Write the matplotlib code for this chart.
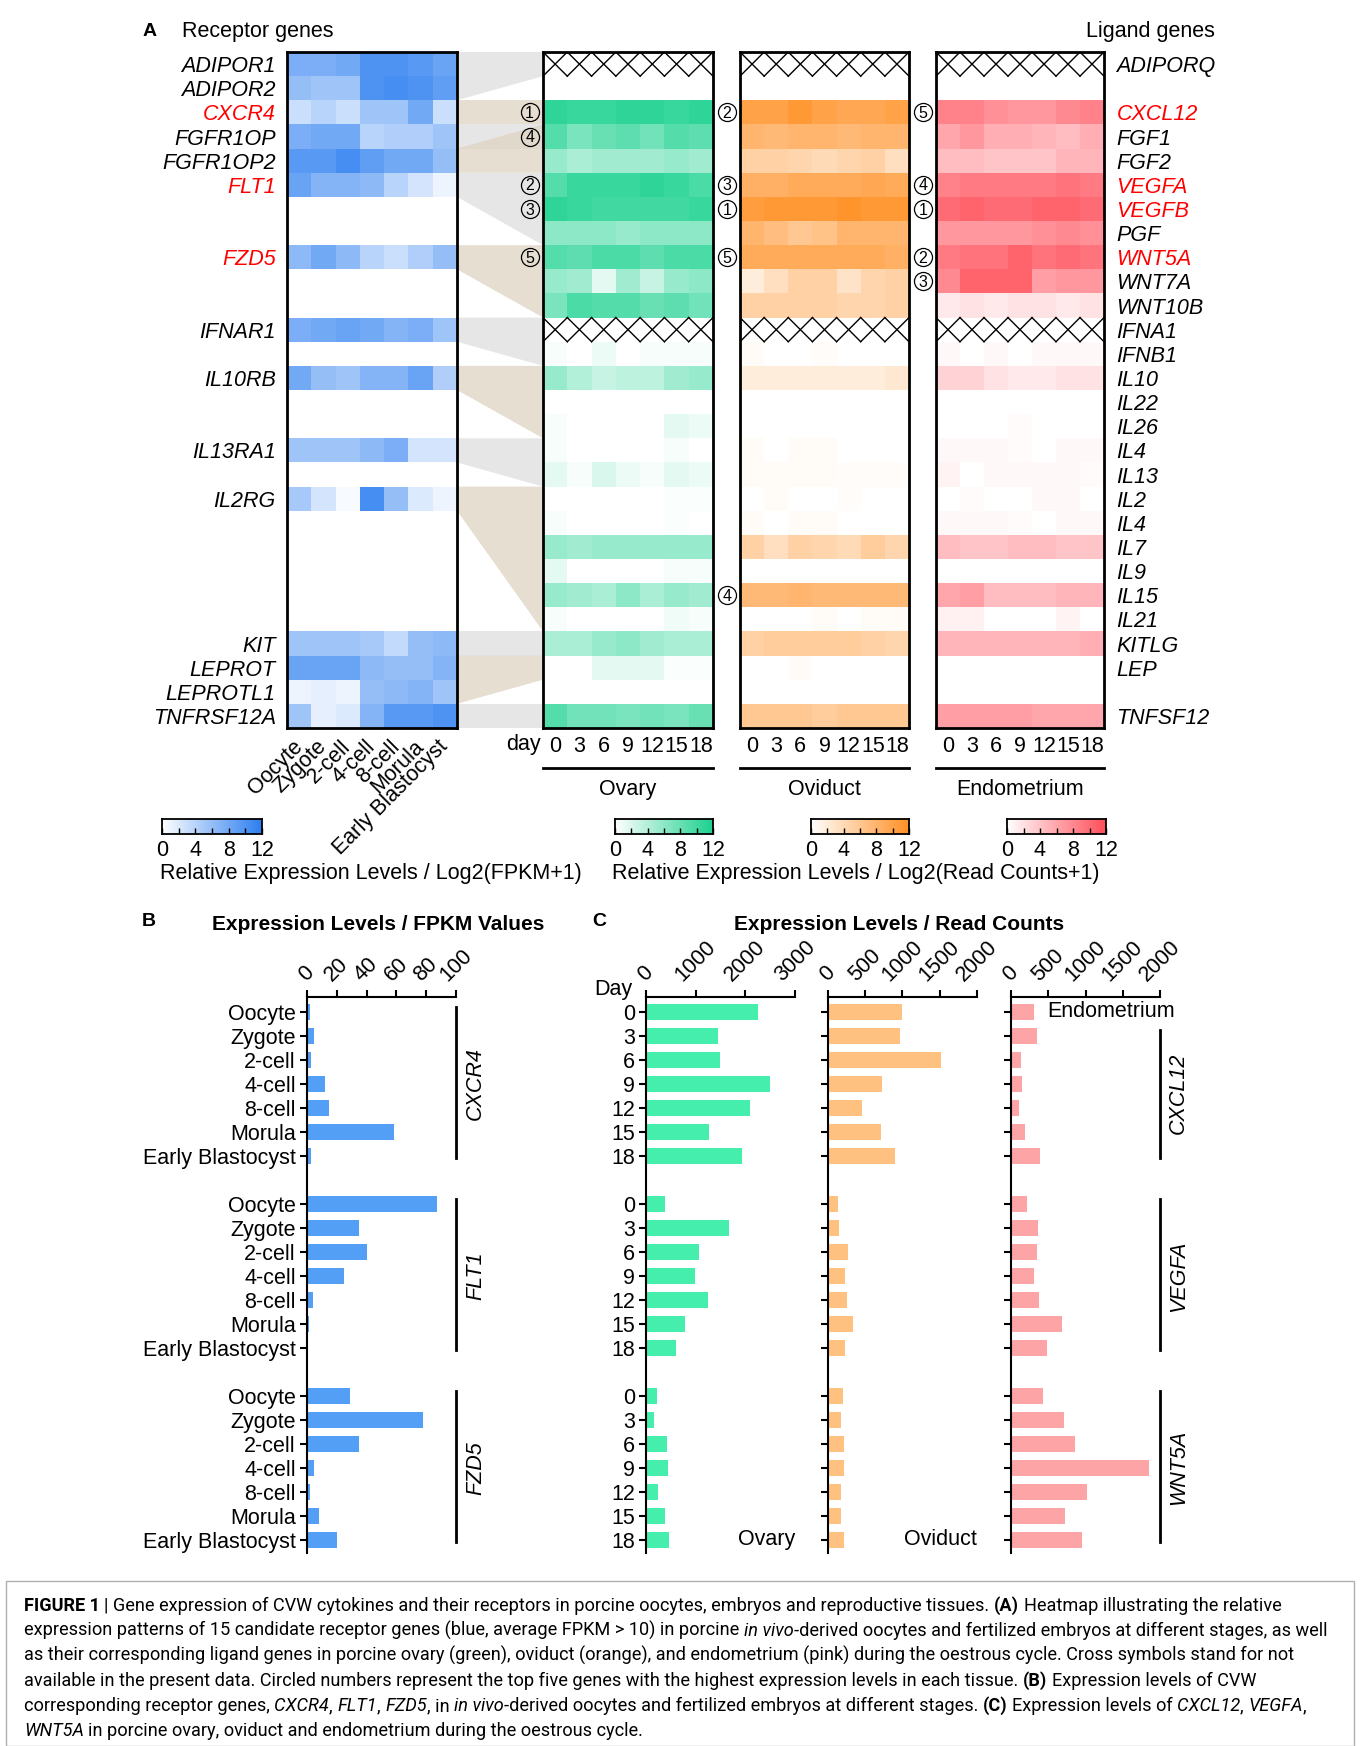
import numpy as np
import matplotlib
matplotlib.use('Agg')
import matplotlib.pyplot as plt
from matplotlib.colors import LinearSegmentedColormap
from matplotlib.patches import Polygon, Rectangle
from matplotlib.lines import Line2D

plt.rcParams['font.family'] = ['Liberation Sans', 'DejaVu Sans']

W, H = 1360, 1746

# ---------------- data ----------------
stages = ['Oocyte', 'Zygote', '2-cell', '4-cell', '8-cell', 'Morula', 'Early Blastocyst']
days = [0, 3, 6, 9, 12, 15, 18]

receptor_genes = ['ADIPOR1', 'ADIPOR2', 'CXCR4', 'FGFR1OP', 'FGFR1OP2', 'FLT1', '', '',
                  'FZD5', '', '', 'IFNAR1', '', 'IL10RB', '', '', 'IL13RA1', '', 'IL2RG',
                  '', '', '', '', '', 'KIT', 'LEPROT', 'LEPROTL1', 'TNFRSF12A']
ligand_genes = ['ADIPORQ', '', 'CXCL12', 'FGF1', 'FGF2', 'VEGFA', 'VEGFB', 'PGF', 'WNT5A',
                'WNT7A', 'WNT10B', 'IFNA1', 'IFNB1', 'IL10', 'IL22', 'IL26', 'IL4', 'IL13',
                'IL2', 'IL4', 'IL7', 'IL9', 'IL15', 'IL21', 'KITLG', 'LEP', '', 'TNFSF12']
highlight = ['CXCR4', 'FLT1', 'FZD5', 'CXCL12', 'VEGFA', 'VEGFB', 'WNT5A']
na_rows = [0, 11]   # ADIPORQ, IFNA1 not available

# log2(FPKM+1), receptor genes in embryos (None = no gene in this row)
blue = [
    [7.5, 7.5, 8, 10, 10, 9.5, 8.5],      # ADIPOR1
    [6, 5.5, 5.5, 10, 10.5, 10, 9],       # ADIPOR2
    [3, 4, 3, 5.5, 5.5, 8, 3],            # CXCR4
    [7.5, 8, 8, 4, 4.5, 4.5, 5.5],        # FGFR1OP
    [9.5, 9.5, 10.5, 9, 8, 8, 6],         # FGFR1OP2
    [8.5, 7, 7, 6.5, 4, 2.5, 1],          # FLT1
    None, None,
    [6.5, 8, 6.5, 4, 3, 4.5, 6],          # FZD5
    None, None,
    [7.5, 8, 8.5, 8, 7, 7.5, 5.5],        # IFNAR1
    None,
    [8, 6, 5.5, 7, 7, 8.5, 4.5],          # IL10RB
    None, None,
    [5.5, 5.5, 5.5, 6.5, 7.5, 2.5, 2.5],  # IL13RA1
    None,
    [5, 2.5, 0.5, 10.5, 6, 2, 1],         # IL2RG
    None, None, None, None, None,
    [5.5, 5.5, 5.5, 5, 3.5, 6, 6.5],      # KIT
    [8.5, 8.5, 8.5, 6.5, 6, 6, 7],        # LEPROT
    [1, 1.5, 1, 6, 6.5, 7, 5.5],          # LEPROTL1
    [5.5, 1.5, 2, 7, 9.5, 9.5, 10],       # TNFRSF12A
]

# log2(read counts+1), ligand genes, days 0-18
ovary = [
    None, None,
    [11, 10.5, 10.5, 11, 11, 10.5, 11], [9, 7, 8, 8.5, 7.5, 9, 8.5],
    [5.5, 4.5, 5, 5, 5, 5.5, 5], [9, 10.5, 10.5, 10.5, 11, 10.5, 9.5],
    [11, 10.5, 10, 10, 10, 10, 10.5], [6, 6, 6, 5.5, 6, 6, 6],
    [9, 8.5, 9.5, 9.5, 8.5, 9.5, 9.5], [5.5, 5, 1.5, 5, 3, 5.5, 6],
    [7, 9.5, 9, 9, 8, 8.5, 7.5], None,
    [0.5, 0, 1, 0, 0.5, 0.5, 0.5], [5.5, 4, 3, 3.5, 3.5, 5, 5.5],
    [0, 0, 0, 0, 0, 0, 0], [0.5, 0, 0, 0, 0, 1.5, 1],
    [0.5, 0, 0, 0, 0, 0.5, 0], [1.5, 0.5, 2, 1, 0.5, 1.5, 1],
    [0, 0, 0, 0, 0, 0.3, 0.3], [0.5, 0, 0, 0, 0, 0.3, 0],
    [5.5, 5, 5.5, 5.5, 5.5, 5.5, 5.5], [1.5, 0, 0, 0, 0, 0.5, 0.5],
    [5.5, 5, 4.5, 6, 4.5, 5.5, 5], [0.5, 0, 0, 0, 0, 0.8, 0.5],
    [4.5, 4.5, 5.5, 6, 5, 4.5, 4.5], [0, 0, 1.5, 1.5, 1.5, 0.3, 0.3],
    None, [9, 7.5, 7.5, 7, 7.5, 7, 8],
]
oviduct = [
    None, None,
    [10, 10, 11, 10, 9.5, 9.5, 10], [8, 7.5, 8, 8, 7.5, 8, 8],
    [5, 5, 4.5, 4, 4.5, 5, 3.5], [8.5, 8.5, 9, 9, 9, 9.5, 9],
    [10.5, 11, 11, 11, 11.5, 11, 11], [8, 7, 6, 6.5, 8, 8, 8],
    [9, 9, 9, 9, 9, 9, 8.5], [2, 3.5, 5, 5, 3, 4.5, 5],
    [5, 5, 5, 5, 4.5, 4.5, 5], None,
    [0.5, 0, 0, 0.3, 0, 0, 0], [2, 2, 2, 2, 2, 2, 2.5],
    [0, 0, 0, 0, 0, 0, 0], [0, 0, 0, 0, 0, 0, 0],
    [0.5, 0, 0.5, 0.5, 0, 0, 0], [0.5, 0.5, 0.5, 0.5, 0.3, 0.3, 0.3],
    [0, 0.5, 0, 0, 0.3, 0, 0], [0.5, 0, 0.5, 0.5, 0, 0, 0],
    [5, 3.5, 5, 4.5, 4, 5.5, 4.5], [0, 0, 0, 0, 0, 0, 0],
    [7.5, 7.5, 8, 7.5, 7.5, 7.5, 7.5], [0, 0, 0, 0.5, 0, 0.5, 0.5],
    [5, 5.5, 5.5, 5.5, 5.5, 5, 4.5], [0, 0, 0.5, 0, 0, 0, 0],
    None, [6, 6, 6, 5.5, 6, 6, 6],
]
endometrium = [
    None, None,
    [8.5, 8.5, 7.5, 7, 7, 8, 8.5], [6, 7, 5.5, 5.5, 5, 4.5, 5.5],
    [4.5, 4.5, 4, 4, 4, 5, 5], [8.5, 9, 9, 9, 9, 9.5, 9],
    [10, 10.5, 10, 10, 10.5, 10.5, 10], [7, 7, 7, 7, 7.5, 8, 7.5],
    [9, 9.5, 9.5, 10.5, 9.5, 10, 9.5], [8, 10.5, 10.5, 10.5, 6.5, 7, 7],
    [1.5, 2, 1.5, 2, 2, 1.5, 2], None,
    [0.5, 0, 0.5, 0, 0.5, 0.5, 0.5], [3, 3, 2, 1.5, 1.5, 2, 2],
    [0, 0, 0, 0, 0, 0, 0], [0, 0, 0, 0.3, 0, 0, 0],
    [0.5, 0.5, 0.5, 0.3, 0, 0.5, 0.5], [0.8, 0, 0.5, 0.5, 0.5, 0.5, 0.3],
    [0, 0.3, 0, 0, 0.5, 0.5, 0], [0.5, 0.5, 0.5, 0.3, 0, 0.5, 0.5],
    [4.5, 4, 4, 4.5, 4.5, 4, 4], [0, 0, 0, 0, 0, 0, 0],
    [6, 6.5, 4.5, 4.5, 4.5, 5, 5], [1, 1, 0, 0, 0, 0.8, 0],
    [5, 5, 5, 5, 5, 5, 5.5], [0, 0, 0, 0, 0, 0, 0],
    None, [6.5, 6.5, 6.5, 6.5, 6, 6, 6],
]

# top-5 ranks per tissue: row -> rank
ovary_rank = {2: 1, 3: 4, 5: 2, 6: 3, 8: 5}
oviduct_rank = {2: 2, 5: 3, 6: 1, 8: 5, 22: 4}
endometrium_rank = {2: 5, 5: 4, 6: 1, 8: 2, 9: 3}

# receptor rows -> ligand rows (start, end), shade
links = [
    (0, 2, 0, 1, 'gray'), (2, 3, 2, 3, 'tan'), (3, 4, 3, 4, 'gray'),
    (4, 5, 3, 5, 'tan'), (5, 6, 5, 8, 'gray'), (8, 9, 8, 11, 'tan'),
    (11, 12, 11, 13, 'gray'), (13, 14, 13, 16, 'tan'), (16, 17, 16, 18, 'gray'),
    (18, 19, 18, 24, 'tan'), (24, 25, 24, 25, 'gray'), (25, 27, 25, 26, 'tan'),
    (27, 28, 27, 28, 'gray'),
]

# panel B: FPKM
fpkm_genes = ['CXCR4', 'FLT1', 'FZD5']
fpkm_cxcr4 = [2.2, 4.5, 2.7, 12.3, 15, 58.6, 2.7]
fpkm_flt1 = [87, 35, 40, 24.6, 3.7, 1.5, 0.3]
fpkm_fzd5 = [29, 78, 35, 4.5, 2.2, 8, 20]

# panel C: read counts
count_genes = ['CXCL12', 'VEGFA', 'WNT5A']
ovary_cxcl12 = [2260, 1450, 1490, 2490, 2090, 1270, 1940]
ovary_vegfa = [380, 1680, 1075, 985, 1255, 785, 605]
ovary_wnt5a = [225, 160, 425, 450, 245, 380, 470]
oviduct_cxcl12 = [1000, 965, 1515, 720, 455, 715, 900]
oviduct_vegfa = [135, 150, 270, 225, 255, 330, 225]
oviduct_wnt5a = [195, 180, 210, 210, 180, 180, 210]
endo_cxcl12 = [310, 345, 130, 150, 105, 185, 395]
endo_vegfa = [210, 360, 345, 315, 375, 690, 480]
endo_wnt5a = [435, 715, 865, 1850, 1015, 730, 955]

# ---------------- helpers ----------------
fig = plt.figure(figsize=(W / 100, H / 100), dpi=100)


def px_axes(x0, y0, x1, y1):
    return fig.add_axes([x0 / W, 1 - y1 / H, (x1 - x0) / W, (y1 - y0) / H])


def ftext(x, y, s, **kw):
    return fig.text(x / W, 1 - y / H, s, **kw)


def fline(x0, x1, y0, y1, **kw):
    fig.add_artist(Line2D([x0 / W, x1 / W], [1 - y0 / H, 1 - y1 / H],
                          transform=fig.transFigure, **kw))


cm_blue = LinearSegmentedColormap.from_list('blue', ['#ffffff', '#2c7ef0'])
cm_green = LinearSegmentedColormap.from_list('green', ['#ffffff', '#1cd18f'])
cm_orange = LinearSegmentedColormap.from_list('orange', ['#ffffff', '#ff9024'])
cm_red = LinearSegmentedColormap.from_list('red', ['#ffffff', '#ff4e59'])

FS = 15.5
HM_TOP, HM_BOT = 52, 728


def draw_heatmap(ax, rows, cmap, crosses=()):
    data = np.full((len(rows), 7), np.nan)
    for i, r in enumerate(rows):
        if r is not None:
            data[i] = r
    ax.pcolormesh(np.arange(8), np.arange(len(rows) + 1), np.ma.masked_invalid(data),
                  cmap=cmap, vmin=0, vmax=12, linewidth=0)
    for r in crosses:
        for c in range(7):
            ax.plot([c, c + 1], [r, r + 1], color='k', lw=1)
            ax.plot([c, c + 1], [r + 1, r], color='k', lw=1)
    ax.set_xlim(0, 7)
    ax.set_ylim(len(rows), 0)
    for sp in ax.spines.values():
        sp.set_linewidth(2)
    ax.tick_params(length=0)


# ---------------- panel A ----------------
ax_link = px_axes(457, HM_TOP, 543, HM_BOT)
ax_link.set_xlim(0, 1)
ax_link.set_ylim(28, 0)
ax_link.axis('off')
for r0, r1, l0, l1, kind in links:
    if kind == 'gray':
        ax_link.add_patch(Polygon([(0, r0), (1, l0), (1, l1), (0, r1)],
                                  closed=True, fc='#e6e6e6', ec='none'))
for r0, r1, l0, l1, kind in links:
    if kind == 'tan':
        ax_link.add_patch(Polygon([(0, r0), (1, l0), (1, l1), (0, r1)],
                                  closed=True, fc='#e0d4c4', ec='none', alpha=0.75))

ax_blue = px_axes(287, HM_TOP, 457, HM_BOT)
draw_heatmap(ax_blue, blue, cm_blue)
rec_rows = [i for i, g in enumerate(receptor_genes) if g]
ax_blue.set_yticks([i + 0.5 for i in rec_rows])
ax_blue.set_yticklabels([receptor_genes[i] for i in rec_rows], fontsize=FS, style='italic')
ax_blue.tick_params(axis='y', pad=8)
for lab in ax_blue.get_yticklabels():
    if lab.get_text() in highlight:
        lab.set_color('red')
ax_blue.set_xticks(np.arange(7) + 0.5)
ax_blue.set_xticklabels(stages, fontsize=FS, rotation=45, ha='right', va='center',
                        rotation_mode='anchor')
ax_blue.tick_params(axis='x', pad=11)

tissues = [
    ('Ovary', ovary, cm_green, 543, 713, ovary_rank),
    ('Oviduct', oviduct, cm_orange, 740, 909, oviduct_rank),
    ('Endometrium', endometrium, cm_red, 936, 1104, endometrium_rank),
]
for k, (name, rows, cmap, x0, x1, ranks) in enumerate(tissues):
    ax = px_axes(x0, HM_TOP, x1, HM_BOT)
    draw_heatmap(ax, rows, cmap, crosses=na_rows)
    ax.set_xticks(np.arange(7) + 0.5)
    ax.set_xticklabels([str(d) for d in days], fontsize=FS)
    ax.tick_params(axis='x', pad=6)
    if k < 2:
        ax.set_yticks([])
    else:
        lig_rows = [i for i, g in enumerate(ligand_genes) if g]
        ax.yaxis.tick_right()
        ax.set_yticks([i + 0.5 for i in lig_rows])
        ax.set_yticklabels([ligand_genes[i] for i in lig_rows], fontsize=FS, style='italic')
        ax.tick_params(axis='y', pad=9)
        for lab in ax.get_yticklabels():
            if lab.get_text() in highlight:
                lab.set_color('red')
    for row, rank in ranks.items():
        ax.plot(-0.55, row + 0.5, 'o', ms=13, mfc='none', mec='k', mew=0.9, clip_on=False)
        ax.text(-0.55, row + 0.55, str(rank), fontsize=11.5, ha='center', va='center',
                clip_on=False)
    fline(x0, x1, 768, 768, color='k', lw=2)
    ftext((x0 + x1) / 2, 790, name, fontsize=FS, ha='center', va='center')

ftext(541, 744, 'day', fontsize=FS, ha='right', va='center')
ftext(150, 32, 'A', fontsize=14, fontweight='bold', ha='center', va='center')
ftext(182, 32, 'Receptor genes', fontsize=FS, ha='left', va='center')
ftext(1215, 32, 'Ligand genes', fontsize=FS, ha='right', va='center')

# colour bars
for cmap, x0, x1 in [(cm_blue, 162, 262), (cm_green, 615, 713),
                     (cm_orange, 811, 909), (cm_red, 1007, 1106)]:
    cax = px_axes(x0, 819, x1, 834)
    cax.imshow(np.linspace(0, 12, 256)[None, :], cmap=cmap, vmin=0, vmax=12,
               aspect='auto', extent=[0, 12, 0, 1])
    cax.set_yticks([])
    cax.set_xticks(range(0, 13, 2))
    cax.set_xticklabels(['0', '', '4', '', '8', '', '12'], fontsize=FS)
    cax.tick_params(axis='x', direction='in', length=4, width=1, pad=4)
    for sp in cax.spines.values():
        sp.set_linewidth(1.3)

ftext(160, 873, 'Relative Expression Levels / Log2(FPKM+1)', fontsize=FS, ha='left', va='center')
ftext(612, 873, 'Relative Expression Levels / Log2(Read Counts+1)', fontsize=FS,
      ha='left', va='center')

# ---------------- panel B / C ----------------
BAR_TOP, BAR_BOT = 997, 1553
ypos = [g * 8 + i for g in range(3) for i in range(7)]


def bar_axes(x0, x1, xmax, ticks, values, color, ylabels=None):
    ax = px_axes(x0, BAR_TOP, x1, BAR_BOT)
    ax.barh(ypos, values, height=0.66, color=color)
    ax.set_xlim(0, xmax)
    ax.set_ylim(22.55, -0.625)
    ax.xaxis.tick_top()
    ax.set_xticks(ticks)
    ax.set_xticklabels([str(t) for t in ticks], rotation=45, ha='center', va='bottom',
                       fontsize=FS)
    ax.set_yticks(ypos)
    ax.set_yticklabels(ylabels if ylabels else [''] * len(ypos), fontsize=FS)
    ax.tick_params(length=5, width=1.5, pad=3)
    ax.spines['right'].set_visible(False)
    ax.spines['bottom'].set_visible(False)
    ax.spines['left'].set_linewidth(1.5)
    ax.spines['top'].set_linewidth(1.5)
    return ax


ax_b = bar_axes(307, 456, 100, [0, 20, 40, 60, 80, 100],
                fpkm_cxcr4 + fpkm_flt1 + fpkm_fzd5, '#529ff5', stages * 3)
for g, gene in enumerate(fpkm_genes):
    ax_b.plot([100, 100], [g * 8 - 0.2, g * 8 + 6.1], color='k', lw=2, clip_on=False)
    ax_b.text(113, g * 8 + 3, gene, rotation=90, fontsize=FS, style='italic',
              ha='center', va='center', clip_on=False)

ax_ov = bar_axes(646, 795, 3000, [0, 1000, 2000, 3000],
                 ovary_cxcl12 + ovary_vegfa + ovary_wnt5a, '#45eead',
                 [str(d) for d in days] * 3)
ax_od = bar_axes(828, 977, 2000, [0, 500, 1000, 1500, 2000],
                 oviduct_cxcl12 + oviduct_vegfa + oviduct_wnt5a, '#fec17f')
ax_en = bar_axes(1011, 1160, 2000, [0, 500, 1000, 1500, 2000],
                 endo_cxcl12 + endo_vegfa + endo_wnt5a, '#fda4a7')
ax_ov.text(3000, 22, 'Ovary', fontsize=FS, ha='right', va='center')
ax_od.text(2000, 22, 'Oviduct', fontsize=FS, ha='right', va='center')
ax_en.text(480, 0, 'Endometrium', fontsize=FS, ha='left', va='center')
for g, gene in enumerate(count_genes):
    y0 = 0.75 if g == 0 else g * 8 - 0.2
    ax_en.plot([2000, 2000], [y0, g * 8 + 6.1], color='k', lw=2, clip_on=False)
    ax_en.text(2245, g * 8 + 3.4 if g == 0 else g * 8 + 3, gene, rotation=90,
               fontsize=FS, style='italic', ha='center', va='center', clip_on=False)

ftext(149, 922, 'B', fontsize=14, fontweight='bold', ha='center', va='center')
ftext(378, 925, 'Expression Levels / FPKM Values', fontsize=15, fontweight='bold',
      ha='center', va='center')
ftext(599, 922, 'C', fontsize=14, fontweight='bold', ha='center', va='center')
ftext(899, 925, 'Expression Levels / Read Counts', fontsize=15, fontweight='bold',
      ha='center', va='center')
ftext(613, 989, 'Day', fontsize=FS, ha='center', va='center')

# ---------------- caption ----------------
fig.add_artist(Rectangle((6 / W, 0), (W - 12) / W, 1 - 1581 / H, transform=fig.transFigure,
                         fill=False, ec='#b0b0b0', lw=1))

caption = [
    [('FIGURE 1', 'b'), (' | Gene expression of CVW cytokines and their receptors in porcine '
     'oocytes, embryos and reproductive tissues. ', 'n'), ('(A)', 'b'),
     (' Heatmap illustrating the relative', 'n')],
    [('expression patterns of 15 candidate receptor genes (blue, average FPKM > 10) in porcine ',
      'n'), ('in vivo', 'i'), ('-derived oocytes and fertilized embryos at different stages, '
                               'as well', 'n')],
    [('as their corresponding ligand genes in porcine ovary (green), oviduct (orange), and '
      'endometrium (pink) during the oestrous cycle. Cross symbols stand for not', 'n')],
    [('available in the present data. Circled numbers represent the top five genes with the '
      'highest expression levels in each tissue. ', 'n'), ('(B)', 'b'),
     (' Expression levels of CVW', 'n')],
    [('corresponding receptor genes, ', 'n'), ('CXCR4', 'i'), (', ', 'n'), ('FLT1', 'i'),
     (', ', 'n'), ('FZD5', 'i'), (', in ', 'n'), ('in vivo', 'i'),
     ('-derived oocytes and fertilized embryos at different stages. ', 'n'), ('(C)', 'b'),
     (' Expression levels of ', 'n'), ('CXCL12', 'i'), (', ', 'n'), ('VEGFA', 'i'),
     (',', 'n')],
    [('WNT5A', 'i'), (' in porcine ovary, oviduct and endometrium during the oestrous cycle.',
                      'n')],
]
cap_family = ['Roboto', 'Liberation Sans', 'DejaVu Sans']
renderer = fig.canvas.get_renderer()


def style_kw(st, size):
    return dict(fontsize=size, family=cap_family,
                fontweight='bold' if st == 'b' else 'normal',
                style='italic' if st == 'i' else 'normal')


def text_w(s, st, size):
    t = fig.text(0, 0, s, **style_kw(st, size))
    w = t.get_window_extent(renderer).width
    t.remove()
    return w


def layout_line(runs, x, y, size, draw=True):
    sp = text_w('a a', 'n', size) - text_w('aa', 'n', size)
    start = x
    for s, st in runs:
        lead = len(s) - len(s.lstrip(' '))
        trail = len(s) - len(s.rstrip(' '))
        x += lead * sp
        core = s.strip(' ')
        if core:
            if draw:
                t = ftext(x, y, core, va='baseline', ha='left', **style_kw(st, size))
                x += t.get_window_extent(renderer).width
            else:
                x += text_w(core, st, size)
        x += trail * sp
    return x - start


cap_size = 10 * 1262 / layout_line(caption[0], 0, 0, 10, draw=False)
for i, runs in enumerate(caption):
    layout_line(runs, 24, 1611 + i * 25, cap_size)

fig.savefig('out.png', dpi=100)
